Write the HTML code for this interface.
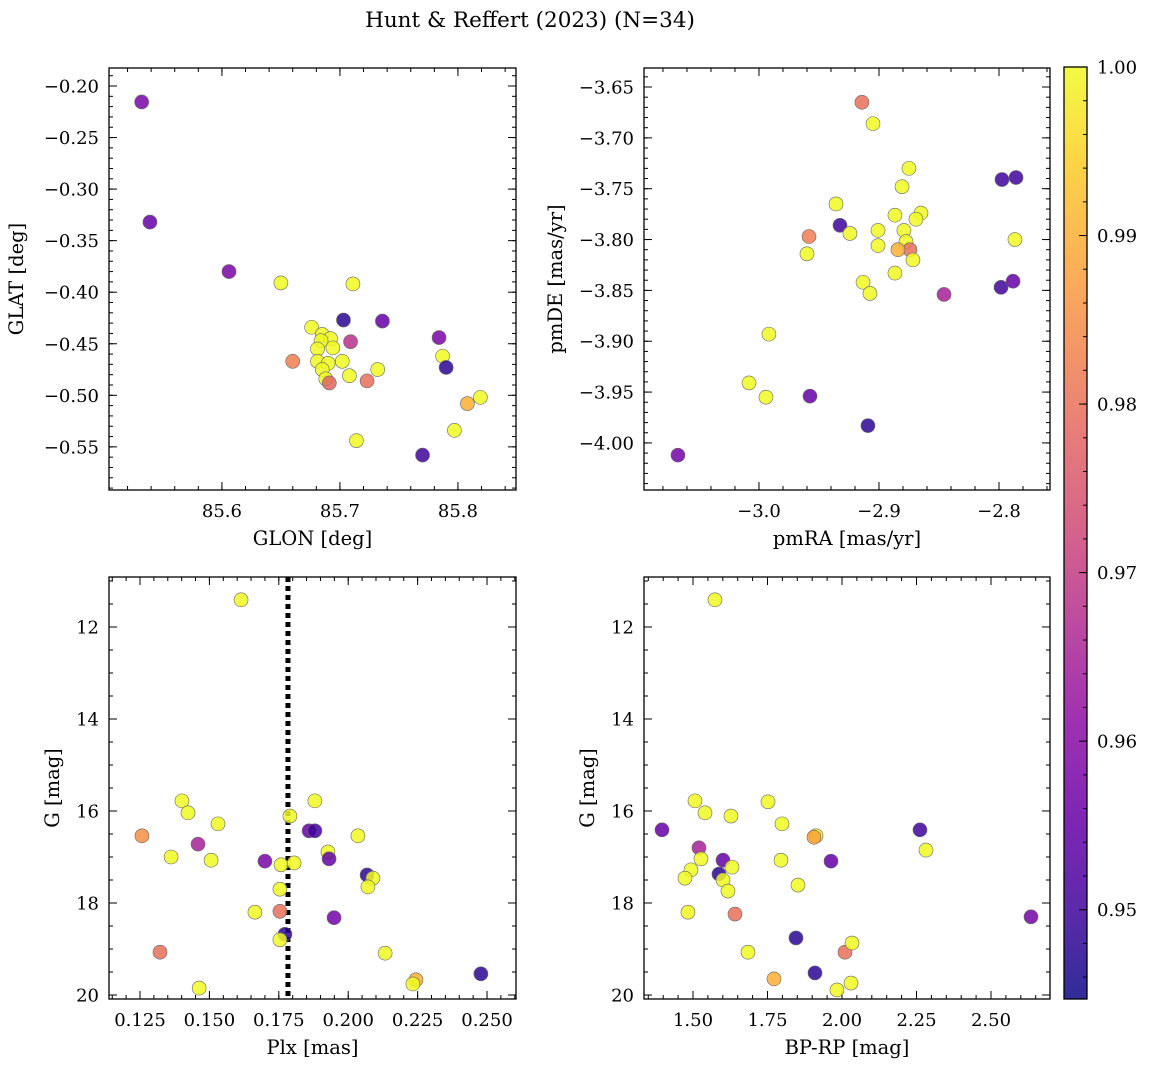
<!DOCTYPE html>
<html><head><meta charset="utf-8"><style>
body{margin:0;background:#fff;}
svg{display:block;font-family:"DejaVu Serif","Liberation Serif",serif;}
</style></head><body>
<svg id="fig" width="1149" height="1067" viewBox="0 0 1149 1067">
<text x="530" y="27" font-size="21.5" text-anchor="middle">Hunt &amp; Reffert (2023) (N=34)</text>
</svg>
<script>
// ---- data (probability colours) ----
const p1x=[85.532,85.539,85.606,85.650,85.711,85.703,85.736,85.676,85.784,85.685,85.692,85.709,85.684,85.694,85.681,85.787,85.660,85.702,85.681,85.690,85.685,85.732,85.790,85.708,85.688,85.691,85.723,85.808,85.819,85.797,85.714,85.770];
const p1y=[-0.2155,-0.332,-0.380,-0.391,-0.392,-0.427,-0.428,-0.434,-0.444,-0.441,-0.445,-0.448,-0.447,-0.454,-0.455,-0.462,-0.467,-0.467,-0.467,-0.469,-0.475,-0.475,-0.473,-0.481,-0.484,-0.488,-0.486,-0.508,-0.502,-0.534,-0.544,-0.558];
const p1c=[0.958,0.955,0.958,1,1,0.948,0.955,1,0.958,1,1,0.968,1,1,1,1,0.982,1,1,1,1,1,0.948,1,1,0.978,0.98,0.99,1,1,1,0.95];

const p2x=[-2.9142,-2.905,-2.875,-2.7975,-2.7858,-2.8808,-2.9358,-2.865,-2.8692,-2.8867,-2.9325,-2.9242,-2.9008,-2.8792,-2.9583,-2.7867,-2.8775,-2.9008,-2.8742,-2.8842,-2.8717,-2.96,-2.7983,-2.7883,-2.8867,-2.9133,-2.9075,-2.8458,-2.9917,-3.0083,-2.9942,-2.9575,-2.9092,-3.0675];
const p2y=[-3.665,-3.686,-3.730,-3.741,-3.739,-3.748,-3.765,-3.774,-3.780,-3.776,-3.786,-3.794,-3.791,-3.791,-3.797,-3.800,-3.802,-3.806,-3.810,-3.810,-3.820,-3.814,-3.847,-3.841,-3.833,-3.842,-3.853,-3.854,-3.893,-3.941,-3.955,-3.954,-3.983,-4.012];
const p2c=[0.98,1,1,0.95,0.95,1,1,1,1,1,0.95,1,1,1,0.982,1,1,1,0.98,0.99,1,1,0.95,0.955,1,1,1,0.965,1,1,1,0.955,0.948,0.957];

const p3x=[0.1614,0.1257,0.1322,0.1401,0.1423,0.1362,0.1531,0.1459,0.1506,0.1700,0.1463,0.1664,0.1758,0.1790,0.1805,0.1754,0.1754,0.1772,0.1754,0.1859,0.1880,0.1880,0.1927,0.1931,0.1949,0.2035,0.2068,0.2089,0.2071,0.2133,0.2244,0.2233,0.2478];
const p3y=[11.41,16.54,19.07,15.78,16.04,17.0,16.28,16.72,17.07,17.09,19.85,18.20,17.17,16.11,17.13,17.70,18.18,18.68,18.80,16.43,16.43,15.78,16.89,17.04,18.32,16.54,17.39,17.46,17.65,19.09,19.67,19.76,19.54];
const p3c=[1,0.985,0.98,1,1,1,1,0.965,1,0.958,1,1,1,1,1,1,0.98,0.948,1,0.955,0.95,1,1,0.955,0.957,1,0.948,1,1,1,0.99,1,0.948];

const p4x=[1.5738,1.3960,1.5067,1.5403,1.6275,1.7517,1.7987,1.5201,1.6007,1.5268,1.4933,1.4732,1.5872,1.6007,1.6309,1.7953,1.6174,1.8523,1.4832,1.6409,1.9128,1.9060,1.9631,2.2617,2.2819,2.6342,1.8456,1.6846,1.7718,1.9094,2.0101,2.0336,2.0302,1.9832];
const p4y=[11.41,16.41,15.78,16.04,16.11,15.80,16.28,16.80,17.07,17.04,17.28,17.46,17.37,17.50,17.22,17.07,17.74,17.61,18.20,18.24,16.54,16.57,17.09,16.41,16.85,18.30,18.76,19.07,19.65,19.52,19.07,18.87,19.74,19.89];
const p4c=[1,0.955,1,1,1,1,1,0.965,0.955,1,1,1,0.948,1,1,1,1,1,1,0.98,1,0.988,0.955,0.95,1,0.957,0.948,1,0.99,0.948,0.98,1,1,1];

const cbTicks=[0.95,0.96,0.97,0.98,0.99,1.00];
const VMIN=0.9447, VMAX=1.0;

const stops=["#0d0887","#41049d","#6a00a8","#8f0da4","#b12a90","#cc4778","#e16462","#f2844b","#fca636","#fcce25","#f0f921"];
function hex(h){return [1,3,5].map(i=>parseInt(h.substr(i,2),16));}
function plasma(t){t=Math.max(0,Math.min(1,t));const f=t*10,i=Math.min(9,Math.floor(f)),r=f-i;const a=hex(stops[i]),b=hex(stops[i+1]);
 return "rgb("+a.map((v,k)=>Math.round(v+(b[k]-v)*r)).join(",")+")";}
function col(v){return plasma((v-VMIN)/(VMAX-VMIN));}

const svg=document.getElementById('fig');
const NS="http://www.w3.org/2000/svg";
function el(tag,attrs,parent){const e=document.createElementNS(NS,tag);for(const k in attrs)e.setAttribute(k,attrs[k]);(parent||svg).appendChild(e);return e;}
const TF=18, LF=19.5;

function panel(o){
 const g=el('g',{});
 
 
 const sx=v=>o.L+(v-o.x0)/(o.x1-o.x0)*(o.R-o.L);
 const sy=v=>o.T+(v-o.y0)/(o.y1-o.y0)*(o.B-o.T);
 const eps=1e-9;
 function ticks(a,b,step){const r=[];const lo=Math.min(a,b),hi=Math.max(a,b);for(let v=Math.ceil(lo/step-eps)*step;v<=hi+eps;v+=step)r.push(+v.toFixed(6));return r;}
 ticks(o.x0,o.x1,o.xmin).forEach(v=>{const x=sx(v);el('line',{x1:x,x2:x,y1:o.B,y2:o.B-4,stroke:'#000','stroke-width':1},g);el('line',{x1:x,x2:x,y1:o.T,y2:o.T+4,stroke:'#000','stroke-width':1},g);});
 ticks(o.y0,o.y1,o.ymin).forEach(v=>{const y=sy(v);el('line',{x1:o.L,x2:o.L+4,y1:y,y2:y,stroke:'#000','stroke-width':1},g);el('line',{x1:o.R,x2:o.R-4,y1:y,y2:y,stroke:'#000','stroke-width':1},g);});
 o.xt.forEach((v,i)=>{const x=sx(v);el('line',{x1:x,x2:x,y1:o.B,y2:o.B-8,stroke:'#000','stroke-width':1},g);el('line',{x1:x,x2:x,y1:o.T,y2:o.T+8,stroke:'#000','stroke-width':1},g);
  const t=el('text',{x:x,y:o.B+27,'font-size':TF,'text-anchor':'middle'},g);t.textContent=o.xl[i];
  });
 o.yt.forEach((v,i)=>{const y=sy(v);el('line',{x1:o.L,x2:o.L+8,y1:y,y2:y,stroke:'#000','stroke-width':1},g);el('line',{x1:o.R,x2:o.R-8,y1:y,y2:y,stroke:'#000','stroke-width':1},g);
  const t=el('text',{x:o.L-10,y:y+6.5,'font-size':TF,'text-anchor':'end'},g);t.textContent=o.yl[i];
  });
 if(o.vline!==undefined){const x=sx(o.vline);const l=el('line',{x1:x,x2:x,y1:o.T,y2:o.B,stroke:'#000','stroke-width':5,'stroke-dasharray':'5,4'},g);
  }
 o.xs.forEach((v,i)=>{const c=el('circle',{cx:sx(v),cy:sy(o.ys[i]),r:7,fill:col(o.cs[i]),'fill-opacity':0.85,stroke:'#666','stroke-width':0.6},g);
  });
 const fr=el('rect',{x:o.L,y:o.T,width:o.R-o.L,height:o.B-o.T,fill:'none',stroke:'#000','stroke-width':1.3},g);
 
 const xt=el('text',{x:(o.L+o.R)/2,y:o.B+55,'font-size':LF,'text-anchor':'middle'},g);xt.textContent=o.xlab;
 
 const yx=o.L-o.ylo,yy=(o.T+o.B)/2;
 const yt=el('text',{x:yx,y:yy,'font-size':LF,'text-anchor':'middle',transform:`rotate(-90 ${yx} ${yy})`},g);yt.textContent=o.ylab;
 
}

panel({name:'glon-glat-panel',L:109,R:516,T:68,B:490,x0:85.5043,x1:85.8492,y0:-0.18254,y1:-0.59185,xmin:0.02,ymin:0.01,
 xt:[85.6,85.7,85.8],xl:['85.6','85.7','85.8'],yt:[-0.2,-0.25,-0.3,-0.35,-0.4,-0.45,-0.5,-0.55],yl:['−0.20','−0.25','−0.30','−0.35','−0.40','−0.45','−0.50','−0.55'],
 xs:p1x,ys:p1y,cs:p1c,xlab:'GLON [deg]',ylab:'GLAT [deg]',ylo:86});
panel({name:'proper-motion-panel',L:644,R:1050,T:68,B:490,x0:-3.0958,x1:-2.7575,y0:-3.6313,y1:-4.0463,xmin:0.02,ymin:0.01,
 xt:[-3.0,-2.9,-2.8],xl:['−3.0','−2.9','−2.8'],yt:[-3.65,-3.7,-3.75,-3.8,-3.85,-3.9,-3.95,-4.0],yl:['−3.65','−3.70','−3.75','−3.80','−3.85','−3.90','−3.95','−4.00'],
 xs:p2x,ys:p2y,cs:p2c,xlab:'pmRA [mas/yr]',ylab:'pmDE [mas/yr]',ylo:82});
panel({name:'parallax-magnitude-panel',L:109,R:516,T:577,B:999,x0:0.11383,x1:0.26044,y0:10.913,y1:20.087,xmin:0.005,ymin:0.5,
 xt:[0.125,0.15,0.175,0.2,0.225,0.25],xl:['0.125','0.150','0.175','0.200','0.225','0.250'],yt:[12,14,16,18,20],yl:['12','14','16','18','20'],
 xs:p3x,ys:p3y,cs:p3c,xlab:'Plx [mas]',ylab:'G [mag]',ylo:50,vline:0.1783});
panel({name:'color-magnitude-panel',L:644,R:1050,T:577,B:999,x0:1.3356,x1:2.6980,y0:10.913,y1:20.087,xmin:0.05,ymin:0.5,
 xt:[1.5,1.75,2.0,2.25,2.5],xl:['1.50','1.75','2.00','2.25','2.50'],yt:[12,14,16,18,20],yl:['12','14','16','18','20'],
 xs:p4x,ys:p4y,cs:p4c,xlab:'BP-RP [mag]',ylab:'G [mag]',ylo:50});

const cb=el('g',{});


const CT=67,CB=999,CL=1064,CR=1087;
const cy=v=>CB-(v-VMIN)/(VMAX-VMIN)*(CB-CT);
const defs=el('defs',{},cb);
const lg=el('linearGradient',{id:'cbg',x1:0,y1:1,x2:0,y2:0},defs);
for(let i=0;i<=20;i++){el('stop',{offset:i/20,'stop-color':plasma(i/20)},lg);}
el('rect',{x:CL,y:CT,width:CR-CL,height:CB-CT,fill:'url(#cbg)','fill-opacity':0.85},cb);
for(let v=0.946;v<=1.0001;v+=0.002){const y=cy(v);el('line',{x1:CR,x2:CR-4,y1:y,y2:y,stroke:'#000','stroke-width':1},cb);}
cbTicks.forEach(v=>{const y=cy(v);el('line',{x1:CR,x2:CR-8,y1:y,y2:y,stroke:'#000','stroke-width':1},cb);
 const t=el('text',{x:1097,y:y+6.5,'font-size':TF},cb);t.textContent=v.toFixed(2);
 });
el('rect',{x:CL,y:CT,width:CR-CL,height:CB-CT,fill:'none',stroke:'#000','stroke-width':1.3},cb);
</script>
</body></html>
